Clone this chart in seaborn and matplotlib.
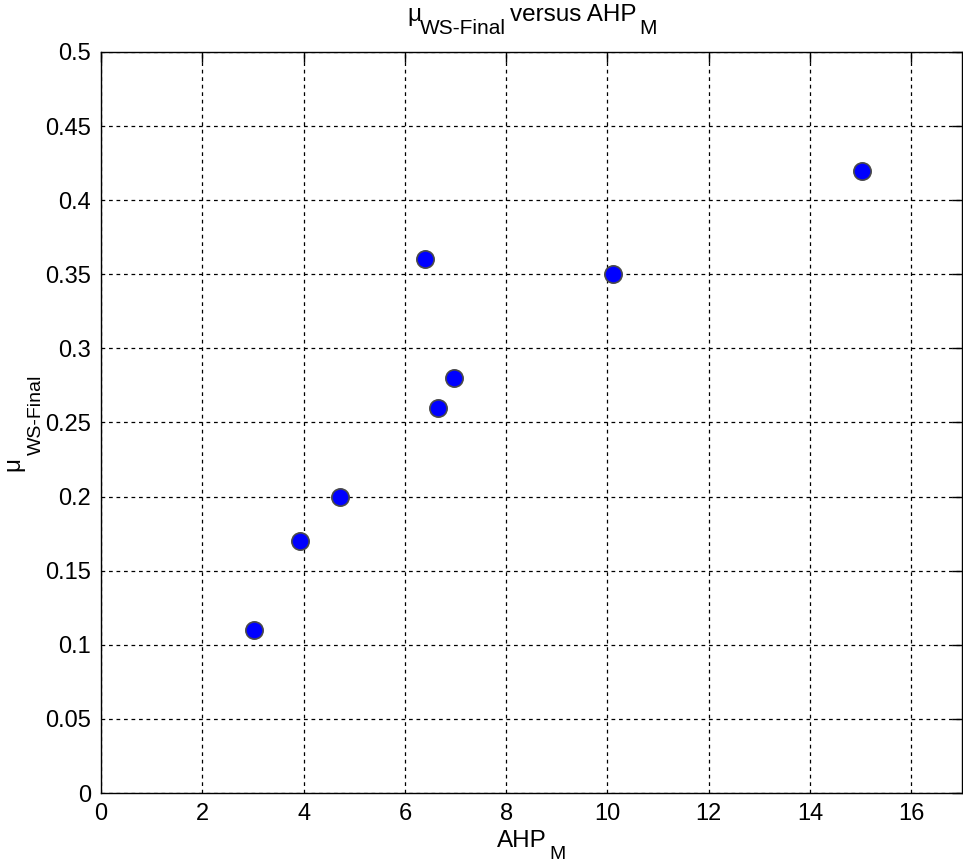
import matplotlib
matplotlib.use("Agg")
import matplotlib.pyplot as plt
import seaborn as sns
import pandas as pd
from matplotlib.ticker import FuncFormatter, MultipleLocator
from matplotlib.transforms import IdentityTransform

ahp_m = [3.02, 3.93, 4.72, 6.40, 6.65, 6.97, 10.10, 15.02]
mu_ws_final = [0.11, 0.17, 0.20, 0.36, 0.26, 0.28, 0.35, 0.42]

title_parts = ["μ", "WS-Final", "versus AHP", "M"]
xlabel_parts = ["AHP", "M"]
ylabel_parts = ["μ", "WS-Final"]

sns.set_style("white")
plt.rcParams['font.family'] = ['Liberation Sans', 'DejaVu Sans']
plt.rcParams['text.color'] = 'black'

df = pd.DataFrame({"AHP_M": ahp_m, "mu": mu_ws_final})

W, H = 963, 863
fig = plt.figure(figsize=(W / 100, H / 100), dpi=100)
ax = fig.add_axes([101 / W, (H - 793) / H, 861 / W, 741 / H])

sns.scatterplot(data=df, x="AHP_M", y="mu", ax=ax, s=155, color="#0000ff",
                edgecolor="#4a4a4a", linewidth=1.2, zorder=3, legend=False)

ax.set_xlim(0, 17)
ax.set_ylim(0, 0.5)
ax.xaxis.set_major_locator(MultipleLocator(2))
ax.yaxis.set_major_locator(MultipleLocator(0.05))
ax.yaxis.set_major_formatter(FuncFormatter(lambda v, p: f"{v:g}" if abs(v) > 1e-9 else "0"))
ax.grid(True, color="black", linestyle=(0, (3, 3)), linewidth=0.9)
ax.set_axisbelow(True)
for sp in ax.spines.values():
    sp.set_color("black")
    sp.set_linewidth(1.0)
ax.tick_params(direction="in", length=7, width=1, top=True, right=True,
               labelsize=17, colors="black", labelcolor="black", pad=7)
ax.set_xlabel("")
ax.set_ylabel("")


def put(s, x, y, fs, rot=0):
    """Place a text piece in pixel coords (from top-left), baseline-anchored."""
    fig.text(x, H - y, s, fontsize=fs, ha="left", va="baseline", color="black",
             rotation=rot, rotation_mode="anchor", transform=IdentityTransform())


# title: main baseline ~21 px from top, subscripts lower
put(title_parts[0], 407, 21, 17.5)
put(title_parts[1], 420, 34, 15)
put(title_parts[2], 510, 21, 17.5)
put(title_parts[3], 639, 34, 15)

# x label
put(xlabel_parts[0], 497, 847, 17.5)
put(xlabel_parts[1], 549, 859, 14)

# y label (rotated; x is the baseline position, y is the start from top)
put(ylabel_parts[0], 19, 471, 17.5, rot=90)
put(ylabel_parts[1], 41, 455, 14, rot=90)

fig.savefig("out.png", dpi=100)
